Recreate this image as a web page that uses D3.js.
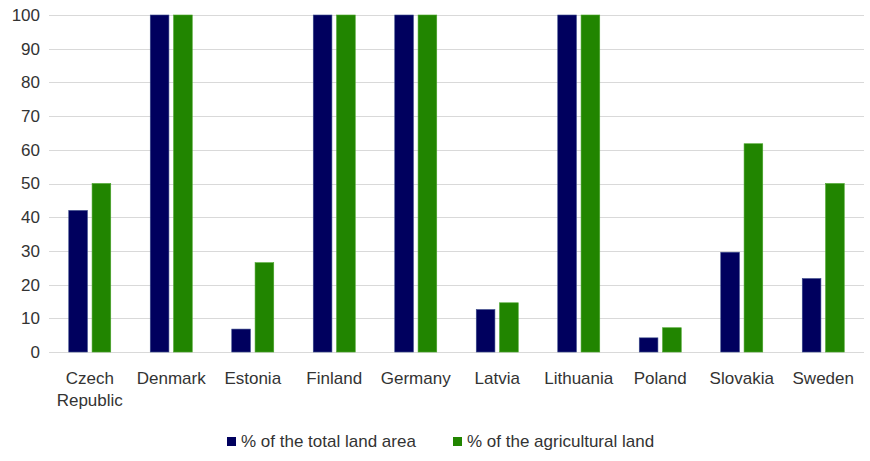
<!DOCTYPE html>
<html><head><meta charset="utf-8">
<script src="https://cdn.jsdelivr.net/npm/d3@7"></script>
<style>body{margin:0;background:#fff}svg text{font-family:"Liberation Sans",Arial,sans-serif;fill:#333}</style>
</head><body><svg id="c" width="870" height="461"></svg>
<script>
const categories = ["Czech Republic","Denmark","Estonia","Finland","Germany","Latvia","Lithuania","Poland","Slovakia","Sweden"];
const totalLand = [42, 100, 6.8, 100, 100, 12.6, 100, 4.2, 29.6, 21.8];
const agriLand = [50, 100, 26.5, 100, 100, 14.6, 100, 7.2, 61.8, 50];
const seriesNames = ["% of the total land area","% of the agricultural land"];
const colors = ["#00005e","#218500"];
const yTicks = [0,10,20,30,40,50,60,70,80,90,100];

const svg = d3.select("#c");
const m = {l:49, r:864, t:15, b:352};
const x = d3.scaleBand().domain(categories).range([m.l, m.r]).paddingInner(0).paddingOuter(0);
const y = d3.scaleLinear().domain([0,100]).range([m.b, m.t]);

svg.append("g").selectAll("line").data(yTicks).join("line")
  .attr("x1", m.l).attr("x2", m.r)
  .attr("y1", d=>Math.round(y(d))+0.5).attr("y2", d=>Math.round(y(d))+0.5)
  .attr("stroke", "#d9d9d9").attr("stroke-width",1);

const yAxis = d3.axisLeft(y).tickValues(yTicks).tickSize(0).tickPadding(9);
const ga = svg.append("g").attr("transform",`translate(${m.l},0)`).call(yAxis);
ga.select(".domain").remove();
ga.selectAll("text").attr("font-size",17).style("font-family",'"Liberation Sans",Arial,sans-serif').attr("fill","#333");

const sub = d3.scaleBand().domain([0,1]).range([0,42]).paddingInner(0.2);
const data = categories.map((c,i)=>({c, v:[totalLand[i], agriLand[i]]}));
const g = svg.append("g");
data.forEach(d=>{
  const cx = x(d.c) + x.bandwidth()/2 - 21;
  d.v.forEach((v,j)=>{
    g.append("rect")
      .attr("x", cx + sub(j)).attr("width", sub.bandwidth())
      .attr("y", y(v)).attr("height", y(0)-y(v))
      .attr("fill", colors[j]).attr("stroke", j===0?"#3a4a8a":"#4aa52a").attr("stroke-width",0.6);
  });
});

const xl = svg.append("g");
categories.forEach(c=>{
  const words = c.split(" ");
  words.forEach((w,k)=>{
    xl.append("text").attr("x", x(c)+x.bandwidth()/2).attr("y", 384 + k*22)
      .attr("text-anchor","middle").attr("font-size",17).text(w);
  });
});

const leg = svg.append("g");
const legX = [227, 453];
seriesNames.forEach((s,i)=>{
  leg.append("rect").attr("x", legX[i]).attr("y", 437).attr("width", 9).attr("height", 9).attr("fill", colors[i]);
  leg.append("text").attr("x", legX[i]+14).attr("y", 447).attr("font-size",17).text(s);
});
</script></body></html>
